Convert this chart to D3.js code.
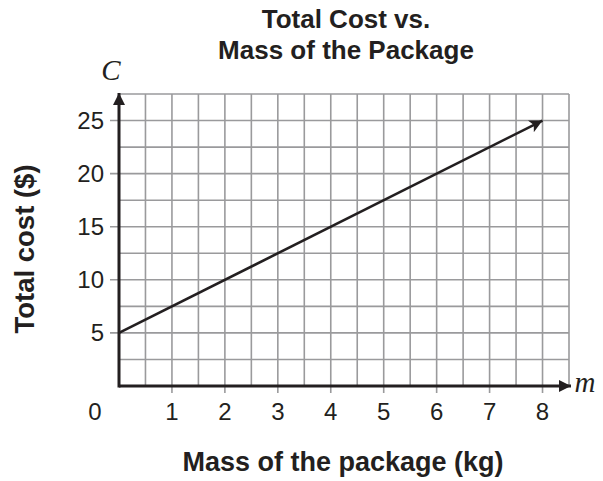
<!DOCTYPE html>
<html lang="en">
<head>
    <meta charset="UTF-8">
    <title>Total Cost vs. Mass of the Package</title>
    <style>
        body { margin: 0; background: #fff; }
        text { fill: #231f20; }
    </style>
</head>
<body>
<svg id="chart" width="603" height="481" font-family="'Liberation Sans', Arial, sans-serif"></svg>
<script src="https://d3js.org/d3.v7.min.js"></script>
<script>
    /* global d3 */

    // data
    let massValues = [0, 8],
        costValues = [5, 25],
        xTickLabels = [1, 2, 3, 4, 5, 6, 7, 8],
        yTickLabels = [5, 10, 15, 20, 25],
        titleLines = ["Total Cost vs.", "Mass of the Package"];

    let svg = d3.select("#chart"),
        x = d3.scaleLinear().domain([0, 8.5]).range([119, 569]),
        y = d3.scaleLinear().domain([0, 27.5]).range([386, 94]),
        ink = "#231f20",
        serif = "'Liberation Serif', 'Times New Roman', serif";

    // arrow heads
    let defs = svg.append("defs");
    defs.append("marker")
        .attr("id", "head")
        .attr("viewBox", "0 0 10 10")
        .attr("refX", 10).attr("refY", 5)
        .attr("markerWidth", 8).attr("markerHeight", 5)
        .attr("markerUnits", "strokeWidth")
        .attr("orient", "auto")
        .append("path")
        .attr("d", "M0,0 L10,5 L0,10 L2.5,5 Z")
        .attr("fill", ink);
    defs.append("marker")
        .attr("id", "axisHead")
        .attr("viewBox", "0 0 10 10")
        .attr("refX", 10).attr("refY", 5)
        .attr("markerWidth", 4).attr("markerHeight", 4)
        .attr("markerUnits", "strokeWidth")
        .attr("orient", "auto")
        .append("path")
        .attr("d", "M0,0 L10,5 L0,10 Z")
        .attr("fill", ink);

    // grid
    let grid = svg.append("g")
        .attr("stroke", "#9a9a9c")
        .attr("stroke-width", 1.6);
    grid.selectAll("line.v")
        .data(d3.range(0.5, 8.51, 0.5))
        .join("line")
        .attr("x1", d => x(d)).attr("x2", d => x(d))
        .attr("y1", y(27.5))
        .attr("y2", d => Number.isInteger(d) ? y(0) + 7 : y(0));
    grid.selectAll("line.h")
        .data(d3.range(2.5, 27.51, 2.5))
        .join("line")
        .attr("y1", d => y(d)).attr("y2", d => y(d))
        .attr("x2", x(8.5))
        .attr("x1", d => d % 5 === 0 ? x(0) - 9 : x(0));

    // axes
    svg.append("line")
        .attr("x1", x(0)).attr("y1", y(0))
        .attr("x2", x(8.5) + 2).attr("y2", y(0))
        .attr("stroke", ink).attr("stroke-width", 3)
        .attr("marker-end", "url(#axisHead)");
    svg.append("line")
        .attr("x1", x(0)).attr("y1", y(0) + 1.5)
        .attr("x2", x(0)).attr("y2", y(27.5) - 1)
        .attr("stroke", ink).attr("stroke-width", 3)
        .attr("marker-end", "url(#axisHead)");

    // tick labels
    svg.selectAll("text.xt")
        .data(xTickLabels)
        .join("text")
        .attr("x", d => x(d)).attr("y", 420)
        .attr("text-anchor", "middle")
        .attr("font-size", 24)
        .text(d => d);
    svg.selectAll("text.yt")
        .data(yTickLabels)
        .join("text")
        .attr("x", 104).attr("y", d => y(d) + 8.5)
        .attr("text-anchor", "end")
        .attr("font-size", 24)
        .text(d => d);
    svg.append("text")
        .attr("x", 95).attr("y", 420)
        .attr("text-anchor", "middle")
        .attr("font-size", 24)
        .text("0");

    // the cost line
    let line = d3.line().x(d => x(d[0])).y(d => y(d[1]));
    svg.append("path")
        .datum(d3.zip(massValues, costValues))
        .attr("d", line)
        .attr("fill", "none")
        .attr("stroke", ink)
        .attr("stroke-width", 2.6)
        .attr("marker-end", "url(#head)");

    // variable names
    svg.append("text")
        .attr("x", 111).attr("y", 80)
        .attr("text-anchor", "middle")
        .style("font-family", serif)
        .style("font-style", "italic")
        .attr("font-size", 29)
        .text("C");
    svg.append("text")
        .attr("x", 585).attr("y", 392)
        .attr("text-anchor", "middle")
        .style("font-family", serif)
        .style("font-style", "italic")
        .attr("font-size", 29)
        .text("m");

    // titles
    svg.selectAll("text.title")
        .data(titleLines)
        .join("text")
        .attr("x", 346).attr("y", (d, i) => 28 + i * 31)
        .attr("text-anchor", "middle")
        .attr("font-weight", "bold")
        .attr("font-size", 26)
        .text(d => d);
    svg.append("text")
        .attr("x", 343).attr("y", 471)
        .attr("text-anchor", "middle")
        .attr("font-weight", "bold")
        .attr("font-size", 27)
        .text("Mass of the package (kg)");
    svg.append("text")
        .attr("transform", "translate(34,249) rotate(-90)")
        .attr("text-anchor", "middle")
        .attr("font-weight", "bold")
        .attr("font-size", 27.5)
        .text("Total cost ($)");
</script>
</body>
</html>
